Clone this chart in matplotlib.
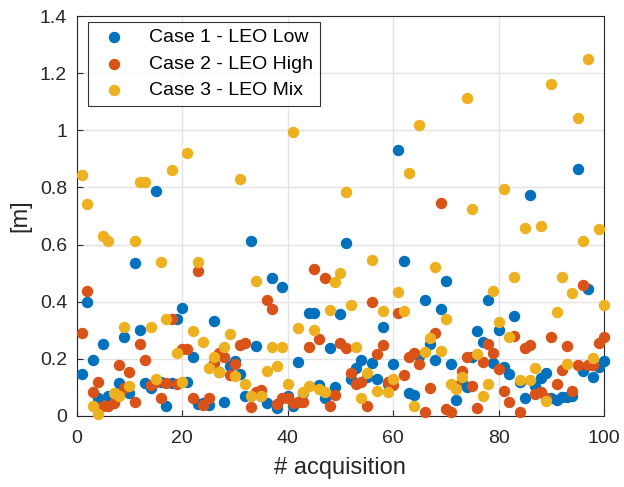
import numpy as np
import matplotlib
matplotlib.use("Agg")
import matplotlib.pyplot as plt

plt.rcParams['font.family'] = ['Liberation Sans', 'DejaVu Sans']

acq = np.arange(1, 101)

leo_low = [0.147, 0.399, 0.197, 0.062, 0.252, 0.071, 0.05, 0.114, 0.277, 0.079,
           0.537, 0.302, 0.114, 0.099, 0.787, 0.12, 0.033, 0.114, 0.338, 0.379,
           0.119, 0.205, 0.042, 0.045, 0.038, 0.332, 0.155, 0.047, 0.176, 0.192,
           0.147, 0.071, 0.612, 0.245, 0.07, 0.044, 0.483, 0.027, 0.453, 0.071,
           0.033, 0.188, 0.08, 0.36, 0.361, 0.108, 0.062, 0.239, 0.1, 0.356,
           0.606, 0.13, 0.167, 0.196, 0.137, 0.186, 0.129, 0.31, 0.112, 0.182,
           0.932, 0.543, 0.079, 0.073, 0.21, 0.405, 0.252, 0.195, 0.375, 0.472,
           0.182, 0.054, 0.114, 0.1, 0.207, 0.298, 0.26, 0.405, 0.186, 0.301,
           0.172, 0.146, 0.35, 0.12, 0.064, 0.773, 0.105, 0.132, 0.151, 0.062,
           0.057, 0.065, 0.065, 0.07, 0.864, 0.156, 0.443, 0.137, 0.172, 0.193]

leo_high = [0.29, 0.438, 0.084, 0.117, 0.033, 0.036, 0.045, 0.178, 0.096, 0.153,
            0.047, 0.253, 0.197, 0.108, 0.12, 0.062, 0.114, 0.338, 0.112, 0.233,
            0.233, 0.062, 0.506, 0.038, 0.062, 0.184, 0.221, 0.207, 0.142, 0.181,
            0.249, 0.256, 0.03, 0.083, 0.091, 0.406, 0.375, 0.04, 0.062, 0.062,
            0.045, 0.048, 0.047, 0.242, 0.513, 0.27, 0.484, 0.035, 0.072, 0.254,
            0.237, 0.151, 0.112, 0.118, 0.036, 0.399, 0.216, 0.248, 0.118, 0.108,
            0.359, 0.144, 0.205, 0.221, 0.181, 0.015, 0.096, 0.291, 0.744, 0.024,
            0.012, 0.103, 0.158, 0.207, 0.103, 0.029, 0.19, 0.251, 0.221, 0.163,
            0.088, 0.05, 0.281, 0.013, 0.237, 0.248, 0.077, 0.083, 0.062, 0.275,
            0.112, 0.161, 0.246, 0.088, 0.178, 0.458, 0.178, 0.178, 0.254, 0.277]

leo_mix = [0.845, 0.741, 0.036, 0.006, 0.629, 0.613, 0.081, 0.068, 0.31, 0.103,
           0.613, 0.82, 0.818, 0.311, 0.129, 0.54, 0.341, 0.862, 0.221, 0.119,
           0.922, 0.298, 0.54, 0.259, 0.168, 0.207, 0.153, 0.24, 0.288, 0.14,
           0.831, 0.112, 0.071, 0.473, 0.07, 0.157, 0.24, 0.176, 0.242, 0.113,
           0.994, 0.309, 0.083, 0.103, 0.301, 0.093, 0.083, 0.371, 0.47, 0.501,
           0.784, 0.39, 0.24, 0.062, 0.151, 0.545, 0.086, 0.368, 0.085, 0.129,
           0.435, 0.368, 0.852, 0.033, 1.017, 0.223, 0.272, 0.522, 0.228, 0.338,
           0.112, 0.093, 0.137, 1.112, 0.724, 0.216, 0.07, 0.112, 0.436, 0.329,
           0.796, 0.275, 0.486, 0.126, 0.658, 0.126, 0.169, 0.664, 0.052, 1.163,
           0.364, 0.486, 0.181, 0.431, 1.043, 0.611, 1.249, 0.203, 0.654, 0.387]

fig = plt.figure(figsize=(6.24, 4.87), dpi=100)
ax = fig.add_axes([0.123, 0.146, 0.845, 0.821])

ax.scatter(acq, leo_low, s=52, color='#0072BD', label='Case 1 - LEO Low', zorder=3, clip_on=False)
ax.scatter(acq, leo_high, s=52, color='#D95319', label='Case 2 - LEO High', zorder=3, clip_on=False)
ax.scatter(acq, leo_mix, s=52, color='#EDB120', label='Case 3 - LEO Mix', zorder=3, clip_on=False)

ax.set_xlim(0, 100)
ax.set_ylim(0, 1.4)
ax.set_xticks([0, 20, 40, 60, 80, 100])
ax.set_yticks(np.arange(0, 1.41, 0.2))
ax.set_yticklabels(['0', '0.2', '0.4', '0.6', '0.8', '1', '1.2', '1.4'])
ax.grid(True, color='#e3e3e3', linewidth=1)
ax.set_axisbelow(True)
ax.tick_params(direction='in', labelsize=14, colors='#262626', length=4)
ax.tick_params(axis='x', pad=10)
ax.tick_params(axis='y', pad=7)
for sp in ax.spines.values():
    sp.set_color('#262626')
ax.set_xlabel('# acquisition', fontsize=17, color='#262626', labelpad=7)
ax.set_ylabel('[m]', fontsize=17, color='#262626', labelpad=6)

leg = ax.legend(loc='upper left', bbox_to_anchor=(0.021, 0.985), fontsize=14,
                frameon=True, fancybox=False, edgecolor='black',
                handletextpad=0.8, borderpad=0.35, labelspacing=0.45,
                borderaxespad=0)
leg.get_frame().set_linewidth(0.8)
leg.set_zorder(5)

plt.savefig('out.png', dpi=100)
plt.close()
